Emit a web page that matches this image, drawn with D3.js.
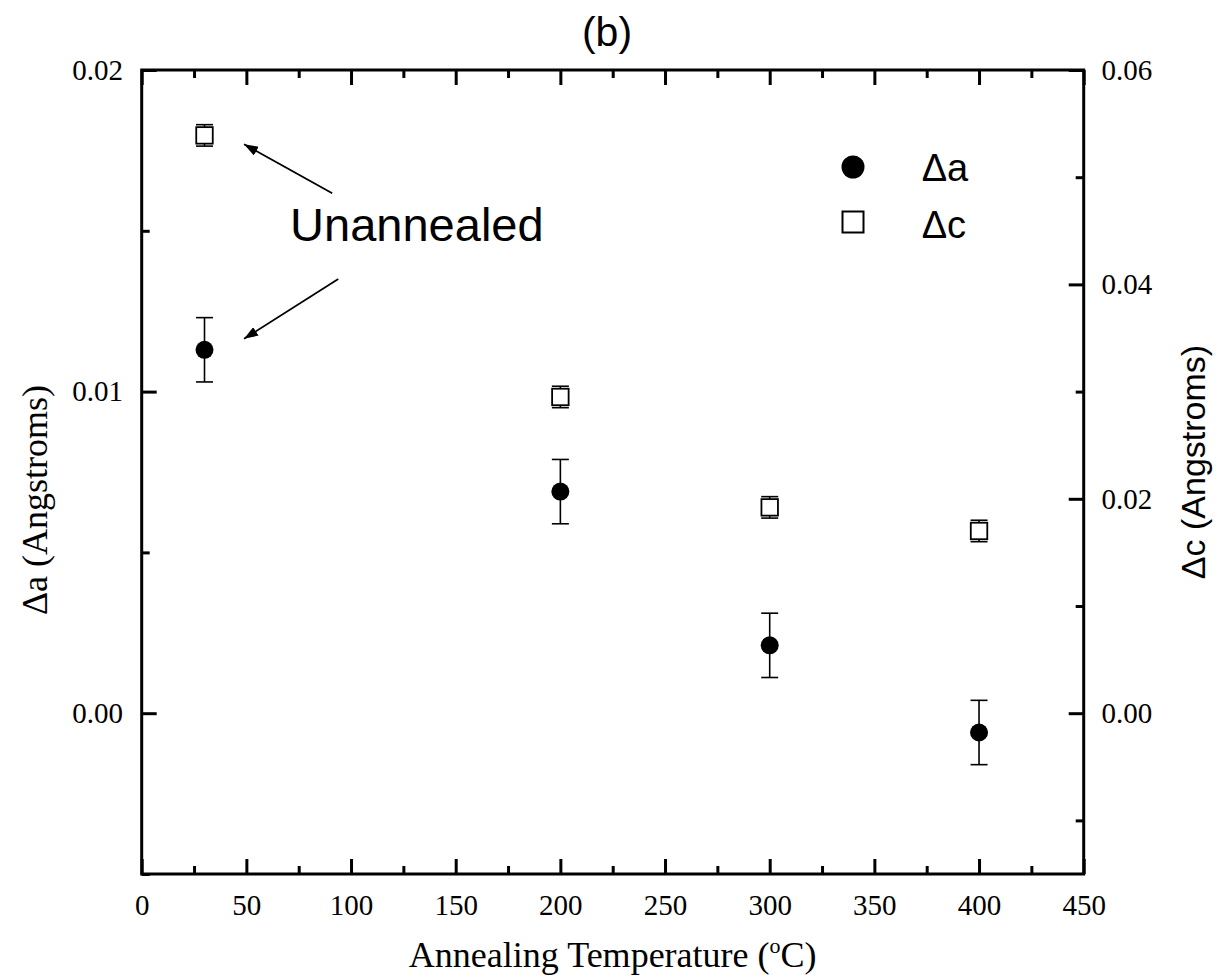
<!DOCTYPE html>
<html><head><meta charset="utf-8">
<script src="https://cdn.jsdelivr.net/npm/d3@7"></script>
<style>body{margin:0;background:#fff}</style>
</head><body><svg id="c" width="1222" height="980"></svg>
<script>
// ---- data ----
const temps = [30, 200, 300, 400];
const deltaA = [0.0113, 0.00689, 0.00211, -0.0006];
const deltaAErr = [0.001, 0.001, 0.001, 0.001];
const deltaC = [0.0539, 0.0295, 0.0192, 0.0170];
const deltaCErr = [0.001, 0.001, 0.001, 0.001];
const xMajor = [0, 50, 100, 150, 200, 250, 300, 350, 400, 450];
const xMinor = [25, 75, 125, 175, 225, 275, 325, 375, 425];
const leftMajor = [0, 0.01, 0.02];
const leftMinor = [-0.005, 0.005, 0.015];
const rightMajor = [0, 0.02, 0.04, 0.06];
const rightMinor = [-0.01, 0.01, 0.03, 0.05];
const legendLabels = ["\u0394a", "\u0394c"];
const annotText = "Unannealed";
const annotPos = [70.9, 0.01467];
const arrows = [[[91.0, 0.01617], [48.9, 0.01769]], [[93.9, 0.0135], [48.9, 0.01164]]];

// ---- layout ----
const L = 141.7, R = 1083.7, T = 70, B = 874;
const serif = "'Liberation Serif','Times New Roman',serif";
const sans = "'Liberation Sans',Arial,sans-serif";
const svg = d3.select("#c");

const x = d3.scaleLinear().domain([0, 450]).range([L, R]);
const yL = d3.scaleLinear().domain([-0.005, 0.02]).range([B, T]);
const yR = d3.scaleLinear().domain([-0.015, 0.06]).range([B, T]);

function styleAxis(g, sw) {
  g.select(".domain").remove();
  g.selectAll(".tick line").attr("stroke", "#000").attr("stroke-width", sw);
  g.selectAll("text").attr("font-family", serif).attr("font-size", 29).attr("fill", "#000");
}
const fmt2 = d3.format(".2f");

// bottom
svg.append("g").attr("transform", `translate(0,${B})`)
  .call(d3.axisBottom(x).tickValues(xMajor).tickSize(-15).tickPadding(20).tickFormat(d3.format("d")))
  .call(g => styleAxis(g, 3));
svg.append("g").attr("transform", `translate(0,${B})`)
  .call(d3.axisBottom(x).tickValues(xMinor).tickSize(-8).tickFormat(""))
  .call(g => styleAxis(g, 3));
// top
svg.append("g").attr("transform", `translate(0,${T})`)
  .call(d3.axisTop(x).tickValues(xMajor).tickSize(-15).tickFormat(""))
  .call(g => styleAxis(g, 3));
svg.append("g").attr("transform", `translate(0,${T})`)
  .call(d3.axisTop(x).tickValues(xMinor).tickSize(-8).tickFormat(""))
  .call(g => styleAxis(g, 3));
// left
svg.append("g").attr("transform", `translate(${L},0)`)
  .call(d3.axisLeft(yL).tickValues(leftMajor).tickSize(-15).tickPadding(18.7).tickFormat(fmt2))
  .call(g => styleAxis(g, 3));
svg.append("g").attr("transform", `translate(${L},0)`)
  .call(d3.axisLeft(yL).tickValues(leftMinor).tickSize(-8).tickFormat(""))
  .call(g => styleAxis(g, 3));
// right
svg.append("g").attr("transform", `translate(${R},0)`)
  .call(d3.axisRight(yR).tickValues(rightMajor).tickSize(-15).tickPadding(17.7).tickFormat(fmt2))
  .call(g => styleAxis(g, 3));
svg.append("g").attr("transform", `translate(${R},0)`)
  .call(d3.axisRight(yR).tickValues(rightMinor).tickSize(-8).tickFormat(""))
  .call(g => styleAxis(g, 3));

// frame
svg.append("rect").attr("x", L).attr("y", T).attr("width", R - L).attr("height", B - T)
  .attr("fill", "none").attr("stroke", "#000").attr("stroke-width", 3);

// ---- series ----
const dataA = temps.map((t, i) => ({t, v: deltaA[i], e: deltaAErr[i]}));
const dataC = temps.map((t, i) => ({t, v: deltaC[i], e: deltaCErr[i]}));
const capW = 17;

function errorBars(data, y) {
  const g = svg.append("g").attr("stroke", "#000").attr("stroke-width", 1.6);
  g.selectAll(".v").data(data).join("line")
    .attr("x1", d => x(d.t)).attr("x2", d => x(d.t))
    .attr("y1", d => y(d.v + d.e)).attr("y2", d => y(d.v - d.e));
  g.selectAll(".ct").data(data).join("line").attr("class", "ct")
    .attr("x1", d => x(d.t) - capW / 2).attr("x2", d => x(d.t) + capW / 2)
    .attr("y1", d => y(d.v + d.e)).attr("y2", d => y(d.v + d.e));
  g.selectAll(".cb").data(data).join("line").attr("class", "cb")
    .attr("x1", d => x(d.t) - capW / 2).attr("x2", d => x(d.t) + capW / 2)
    .attr("y1", d => y(d.v - d.e)).attr("y2", d => y(d.v - d.e));
}
errorBars(dataA, yL);
errorBars(dataC, yR);

svg.append("g").selectAll("circle").data(dataA).join("circle")
  .attr("cx", d => x(d.t)).attr("cy", d => yL(d.v)).attr("r", 9).attr("fill", "#000");
const sq = 16.5;
svg.append("g").selectAll("rect").data(dataC).join("rect")
  .attr("x", d => x(d.t) - sq / 2).attr("y", d => yR(d.v) - sq / 2)
  .attr("width", sq).attr("height", sq)
  .attr("fill", "#fff").attr("stroke", "#000").attr("stroke-width", 1.8);

// ---- legend ----
const lg = svg.append("g");
lg.append("circle").attr("cx", 853).attr("cy", 167).attr("r", 11.5).attr("fill", "#000");
lg.append("rect").attr("x", 853 - 10.5).attr("y", 222 - 10.5).attr("width", 21).attr("height", 21)
  .attr("fill", "#fff").attr("stroke", "#000").attr("stroke-width", 2);
lg.selectAll("text").data(legendLabels).join("text")
  .attr("x", 921.7).attr("y", (d, i) => 181 + i * 56.5)
  .attr("font-family", sans).attr("font-size", 38).attr("fill", "#000").text(d => d);

// ---- annotation ----
svg.append("defs").append("marker").attr("id", "ah")
  .attr("viewBox", "0 0 14 10").attr("refX", 14).attr("refY", 5)
  .attr("markerWidth", 14).attr("markerHeight", 10).attr("markerUnits", "userSpaceOnUse")
  .attr("orient", "auto")
  .append("path").attr("d", "M0,0 L14,5 L0,10 Z").attr("fill", "#000");
svg.append("g").selectAll("line").data(arrows).join("line")
  .attr("x1", d => x(d[0][0])).attr("y1", d => yL(d[0][1]))
  .attr("x2", d => x(d[1][0])).attr("y2", d => yL(d[1][1]))
  .attr("stroke", "#000").attr("stroke-width", 1.8).attr("marker-end", "url(#ah)");
svg.append("text").attr("x", x(annotPos[0])).attr("y", yL(annotPos[1]))
  .attr("font-family", sans).attr("font-size", 47).attr("fill", "#000").text(annotText);

// ---- titles ----
svg.append("text").attr("x", 607).attr("y", 46).attr("text-anchor", "middle")
  .attr("font-family", sans).attr("font-size", 41).attr("fill", "#000").text("(b)");

const xt = svg.append("text").attr("x", (L + R) / 2).attr("y", 967).attr("text-anchor", "middle")
  .attr("font-family", serif).attr("font-size", 36).attr("fill", "#000");
xt.append("tspan").text("Annealing Temperature (");
xt.append("tspan").attr("font-size", 22).attr("dy", -14).text("o");
xt.append("tspan").attr("dy", 14).text("C)");

svg.append("text").attr("transform", "translate(47,500) rotate(-90)").attr("text-anchor", "middle")
  .attr("font-family", serif).attr("font-size", 36).attr("fill", "#000").text("\u0394a (Angstroms)");
svg.append("text").attr("transform", "translate(1205,462) rotate(-90)").attr("text-anchor", "middle")
  .attr("font-family", sans).attr("font-size", 34).attr("fill", "#000").text("\u0394c (Angstroms)");
</script>
</body></html>
